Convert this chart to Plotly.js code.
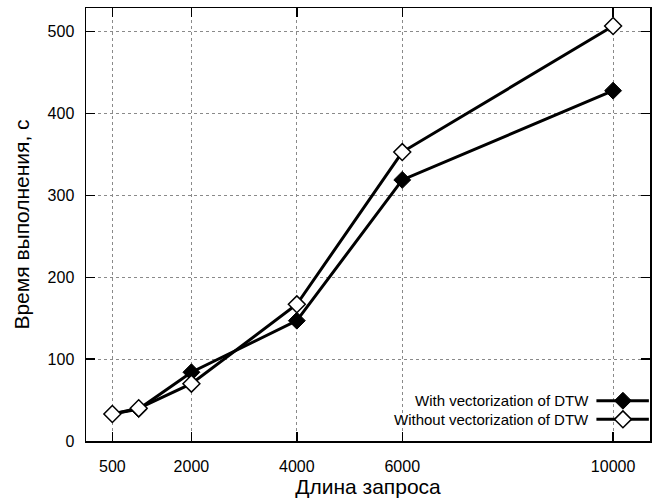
<!DOCTYPE html>
<html>
<head>
<meta charset="utf-8">
<script src="https://cdn.plot.ly/plotly-3.0.1.min.js"></script>
<style>html,body{margin:0;padding:0;background:#fff}#chart{width:657px;height:499px}</style>
</head>
<body>
<div id="chart"></div>
<script>
const queryLength = [500, 1000, 2000, 4000, 6000, 10000];
const withVectorization = [33, 39, 84, 147, 319, 428];
const withoutVectorization = [33, 40, 70, 167, 353, 507];
const seriesNames = ["With vectorization of DTW", "Without vectorization of DTW"];
const xTickVals = [500, 2000, 4000, 6000, 10000];
const xTickText = ["500", "2000", "4000", "6000", "10000"];
const yTickVals = [0, 100, 200, 300, 400, 500];

const FONT = "Liberation Sans, Arial, sans-serif";
const lineStyle = {color: "#000", width: 3};

const traces = [
  {x: queryLength, y: withVectorization, name: seriesNames[0], mode: "lines+markers",
   line: lineStyle, marker: {symbol: "diamond", size: 13, color: "#000", line: {color: "#000", width: 1}},
   showlegend: false},
  {x: queryLength, y: withoutVectorization, name: seriesNames[1], mode: "lines+markers",
   line: lineStyle, marker: {symbol: "diamond", size: 13, color: "#fff", line: {color: "#000", width: 1.5}},
   showlegend: false}
];

// custom legend samples (symbol drawn to the right of the text)
const legY = [0.093, 0.050];
const legFill = ["#000", "#fff"];
for (let i = 0; i < 2; i++) {
  traces.push({x: [0.905, 0.998], y: [legY[i], legY[i]], xaxis: "x2", yaxis: "y2", mode: "lines",
    line: lineStyle, showlegend: false, hoverinfo: "skip"});
  traces.push({x: [0.952], y: [legY[i]], xaxis: "x2", yaxis: "y2", mode: "markers",
    marker: {symbol: "diamond", size: 13, color: legFill[i], line: {color: "#000", width: i ? 1.5 : 1}},
    showlegend: false, hoverinfo: "skip"});
}

const axisCommon = {
  showline: true, linecolor: "#000", linewidth: 1.5, mirror: "allticks",
  ticks: "inside", ticklen: 9, tickwidth: 1.5, tickcolor: "#000",
  showgrid: true, gridcolor: "#8a8a8a", griddash: "dot", gridwidth: 1,
  zeroline: false, tickfont: {family: FONT, size: 16, color: "#000"}
};

const layout = {
  width: 657, height: 499,
  margin: {l: 86, r: 7, t: 8, b: 58},
  paper_bgcolor: "#fff", plot_bgcolor: "#fff",
  font: {family: FONT, color: "#000"},
  xaxis: Object.assign({}, axisCommon, {
    range: [0, 10700], tickmode: "array", tickvals: xTickVals, ticktext: xTickText,
    ticklabelstandoff: 10,
    title: {text: "Длина запроса", font: {family: FONT, size: 21, color: "#000"}, standoff: 4}
  }),
  yaxis: Object.assign({}, axisCommon, {
    range: [0, 529], tickmode: "array", tickvals: yTickVals,
    ticklabelstandoff: 7,
    title: {text: "Время выполнения, с", font: {family: FONT, size: 21, color: "#000"}, standoff: 12}
  }),
  xaxis2: {overlaying: "x", range: [0, 1], visible: false, fixedrange: true},
  yaxis2: {overlaying: "y", range: [0, 1], visible: false, fixedrange: true},
  annotations: seriesNames.map((t, i) => ({
    text: t, xref: "paper", yref: "paper", x: 0.895, y: legY[i],
    xanchor: "right", yanchor: "middle", showarrow: false,
    font: {family: FONT, size: 15, color: "#000"}
  })),
  showlegend: false
};

Plotly.newPlot("chart", traces, layout, {staticPlot: true, displayModeBar: false});
</script>
</body>
</html>
